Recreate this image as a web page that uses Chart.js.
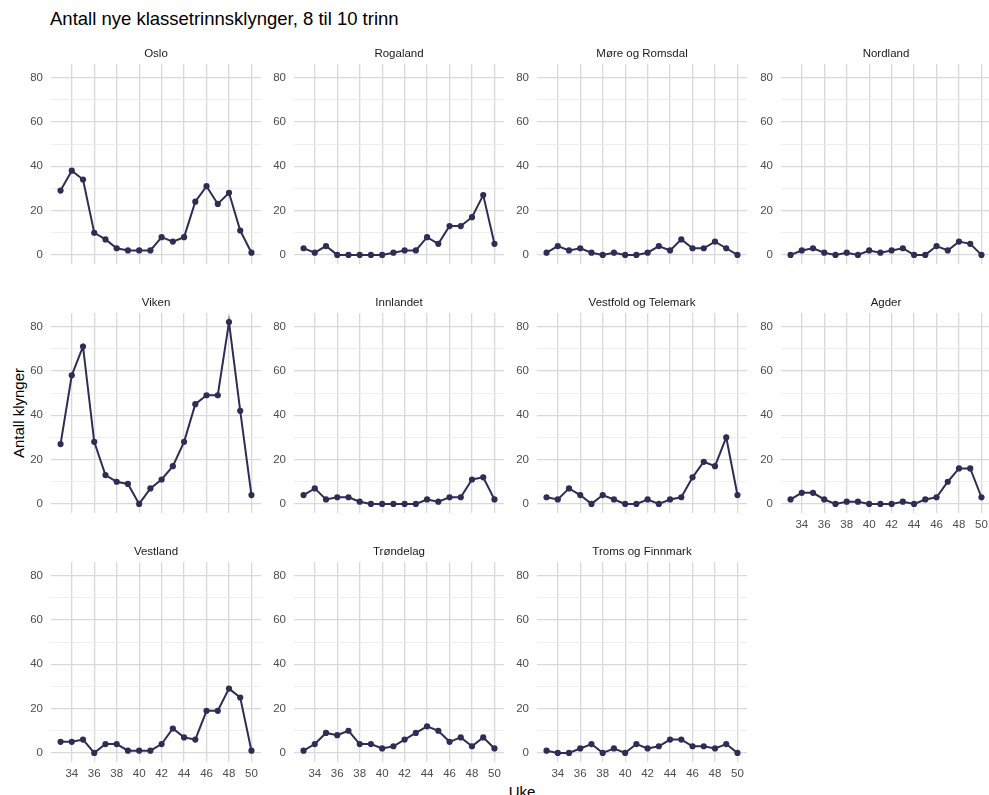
<!DOCTYPE html>
<html>
<head>
<meta charset="utf-8">
<script src="https://cdn.jsdelivr.net/npm/chart.js@4.4.0/dist/chart.umd.min.js"></script>
<style>
  body { margin: 0; background: #fff; width: 989px; height: 795px; overflow: hidden; position: relative;
         font-family: "Liberation Sans", Arial, sans-serif; }
  #title { position: absolute; left: 50px; top: 8px; font-size: 18.5px; color: #000; white-space: nowrap; }
  #ylab { position: absolute; left: 18px; top: 413px; transform: translate(-50%, -50%) rotate(-90deg);
          font-size: 15px; color: #000; white-space: nowrap; }
  #xlab { position: absolute; left: 522px; top: 791px; transform: translate(-50%, -50%);
          font-size: 15px; color: #000; white-space: nowrap; }
  .panel { position: absolute; }
</style>
</head>
<body>
<div id="title">Antall nye klassetrinnsklynger, 8 til 10 trinn</div>
<div id="ylab">Antall klynger</div>
<div id="xlab">Uke</div>
<script>
// data lest av figuren, uke 33 til 50
const weeks = [33, 34, 35, 36, 37, 38, 39, 40, 41, 42, 43, 44, 45, 46, 47, 48, 49, 50];
const regions = ['Oslo', 'Rogaland', 'Møre og Romsdal', 'Nordland',
                 'Viken', 'Innlandet', 'Vestfold og Telemark', 'Agder',
                 'Vestland', 'Trøndelag', 'Troms og Finnmark'];

const oslo      = [29, 38, 34, 10, 7, 3, 2, 2, 2, 8, 6, 8, 24, 31, 23, 28, 11, 1];
const rogaland  = [3, 1, 4, 0, 0, 0, 0, 0, 1, 2, 2, 8, 5, 13, 13, 17, 27, 5];
const more      = [1, 4, 2, 3, 1, 0, 1, 0, 0, 1, 4, 2, 7, 3, 3, 6, 3, 0];
const nordland  = [0, 2, 3, 1, 0, 1, 0, 2, 1, 2, 3, 0, 0, 4, 2, 6, 5, 0];
const viken     = [27, 58, 71, 28, 13, 10, 9, 0, 7, 11, 17, 28, 45, 49, 49, 82, 42, 4];
const innlandet = [4, 7, 2, 3, 3, 1, 0, 0, 0, 0, 0, 2, 1, 3, 3, 11, 12, 2];
const vestfold  = [3, 2, 7, 4, 0, 4, 2, 0, 0, 2, 0, 2, 3, 12, 19, 17, 30, 4];
const agder     = [2, 5, 5, 2, 0, 1, 1, 0, 0, 0, 1, 0, 2, 3, 10, 16, 16, 3];
const vestland  = [5, 5, 6, 0, 4, 4, 1, 1, 1, 4, 11, 7, 6, 19, 19, 29, 25, 1];
const trondelag = [1, 4, 9, 8, 10, 4, 4, 2, 3, 6, 9, 12, 10, 5, 7, 3, 7, 2];
const troms     = [1, 0, 0, 2, 4, 0, 2, 0, 4, 2, 3, 6, 6, 3, 3, 2, 4, 0];

const series = [oslo, rogaland, more, nordland, viken, innlandet, vestfold, agder,
                vestland, trondelag, troms];

const xTicksStep = 2;
const yTicksStep = 10;
const yLabelEvery = 20;

// layout
const LINE = '#2f2d55';
const FONT = '"Liberation Sans", Arial, sans-serif';
const plotW = 214, plotH = 200;
const colStep = 243.3, rowStep = 249.2;
const left0 = 50.6, top0 = 63.8;
const yAxisW = 30, stripH = 22, xAxisH = 20;

function panel(i) {
    const r = Math.floor(i / 4), c = i % 4;
    const showX = r === 2 || (r === 1 && c === 3);
    const wrap = document.createElement('div');
    wrap.className = 'panel';
    wrap.style.left = Math.round(left0 + c * colStep - yAxisW) + 'px';
    wrap.style.top = Math.round(top0 + r * rowStep - stripH) + 'px';
    const canvas = document.createElement('canvas');
    canvas.width = yAxisW + plotW;
    canvas.height = stripH + plotH + xAxisH;
    canvas.style.width = canvas.width + 'px';
    canvas.style.height = canvas.height + 'px';
    wrap.appendChild(canvas);
    document.body.appendChild(wrap);

    const pts = weeks.map((w, k) => ({ x: w, y: series[i][k] }));

    new Chart(canvas.getContext('2d'), {
        type: 'line',
        data: {
            datasets: [{
                data: pts,
                borderColor: LINE,
                backgroundColor: LINE,
                borderWidth: 2,
                pointRadius: 3.1,
                pointBorderWidth: 0,
                pointBackgroundColor: LINE,
                tension: 0
            }]
        },
        options: {
            responsive: false,
            animation: false,
            layout: { padding: 0 },
            plugins: {
                legend: { display: false },
                tooltip: { enabled: false },
                title: {
                    display: true,
                    text: regions[i],
                    fullSize: false,
                    color: '#1a1a1a',
                    font: { family: FONT, size: 11.5, weight: 'normal' },
                    padding: { top: 4.5, bottom: 3.7 }
                }
            },
            scales: {
                x: {
                    type: 'linear',
                    min: 32.15,
                    max: 50.85,
                    afterFit: s => { s.height = xAxisH; },
                    border: { display: false },
                    grid: { color: '#d9d9d9', lineWidth: 1.3, drawTicks: false },
                    ticks: {
                        display: showX,
                        stepSize: xTicksStep,
                        includeBounds: false,
                        autoSkip: false,
                        maxRotation: 0,
                        padding: 5,
                        color: '#4d4d4d',
                        font: { family: FONT, size: 11.5 }
                    }
                },
                y: {
                    min: -4.1,
                    max: 86.1,
                    afterFit: s => { s.width = yAxisW; },
                    border: { display: false },
                    grid: {
                        drawTicks: false,
                        color: ctx => (ctx.tick && ctx.tick.value % yLabelEvery === 0) ? '#d9d9d9' : '#ececec',
                        lineWidth: ctx => (ctx.tick && ctx.tick.value % yLabelEvery === 0) ? 1.3 : 0.9
                    },
                    ticks: {
                        stepSize: yTicksStep,
                        includeBounds: false,
                        padding: 8,
                        color: '#4d4d4d',
                        font: { family: FONT, size: 11.5 },
                        callback: v => (v % yLabelEvery === 0 ? v : '')
                    }
                }
            }
        }
    });
}

regions.forEach((name, i) => panel(i));
</script>
</body>
</html>
